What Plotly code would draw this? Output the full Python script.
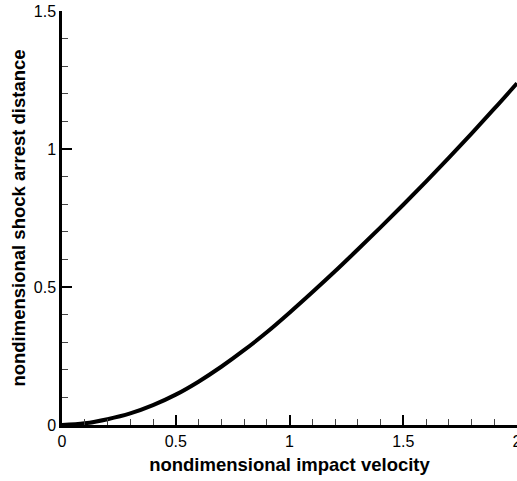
import plotly.graph_objects as go

impact_velocity = [0.0, 0.1, 0.2, 0.3, 0.4, 0.5, 0.6, 0.7, 0.8, 0.9, 1.0,
                   1.1, 1.2, 1.3, 1.4, 1.5, 1.6, 1.7, 1.8, 1.9, 2.0]
arrest_distance = [0.0, 0.006, 0.021, 0.042, 0.072, 0.110, 0.157, 0.211, 0.271, 0.336, 0.407,
                   0.481, 0.557, 0.636, 0.716, 0.798, 0.882, 0.968, 1.056, 1.146, 1.238]

x_ticks = [0, 0.5, 1, 1.5, 2]
x_tick_labels = ["0", "0.5", "1", "1.5", "2"]
y_ticks = [0, 0.5, 1, 1.5]
y_tick_labels = ["0", "0.5", "1", "1.5"]

fig = go.Figure()
fig.add_trace(go.Scatter(
    x=impact_velocity, y=arrest_distance, mode="lines",
    line=dict(color="black", width=4, shape="spline", smoothing=1.0),
    showlegend=False,
))

font = dict(family="Liberation Sans, Arial, sans-serif", color="black")
axis_common = dict(
    showline=True, linecolor="black", linewidth=2.5, mirror=False,
    showgrid=False, zeroline=False,
    ticks="inside", ticklen=10, tickwidth=2, tickcolor="black",
    tickfont=dict(size=16, **font), ticklabeloverflow="allow",
    minor=dict(ticks="inside", ticklen=6, tickwidth=1, tickcolor="#444", showgrid=False),
)

fig.update_layout(
    width=517, height=481,
    margin=dict(l=62, r=0, t=11, b=56, autoexpand=False),
    paper_bgcolor="white", plot_bgcolor="white",
    xaxis=dict(range=[0, 2], tickvals=x_ticks, ticktext=x_tick_labels,
               title=dict(text="<b>nondimensional impact velocity</b>", font=dict(size=18.5, **font), standoff=10),
               automargin=False, **axis_common),
    yaxis=dict(range=[0, 1.5], tickvals=y_ticks, ticktext=y_tick_labels,
               title=dict(text="<b>nondimensional shock arrest distance</b>", font=dict(size=18.5, **font), standoff=4),
               automargin=False, **axis_common),
)
fig.update_xaxes(minor_dtick=0.1, minor_tick0=0)
fig.update_yaxes(minor_dtick=0.1, minor_tick0=0)

fig.write_html("out.html", config={"displayModeBar": False},
               post_script="document.body.style.margin='0';")
